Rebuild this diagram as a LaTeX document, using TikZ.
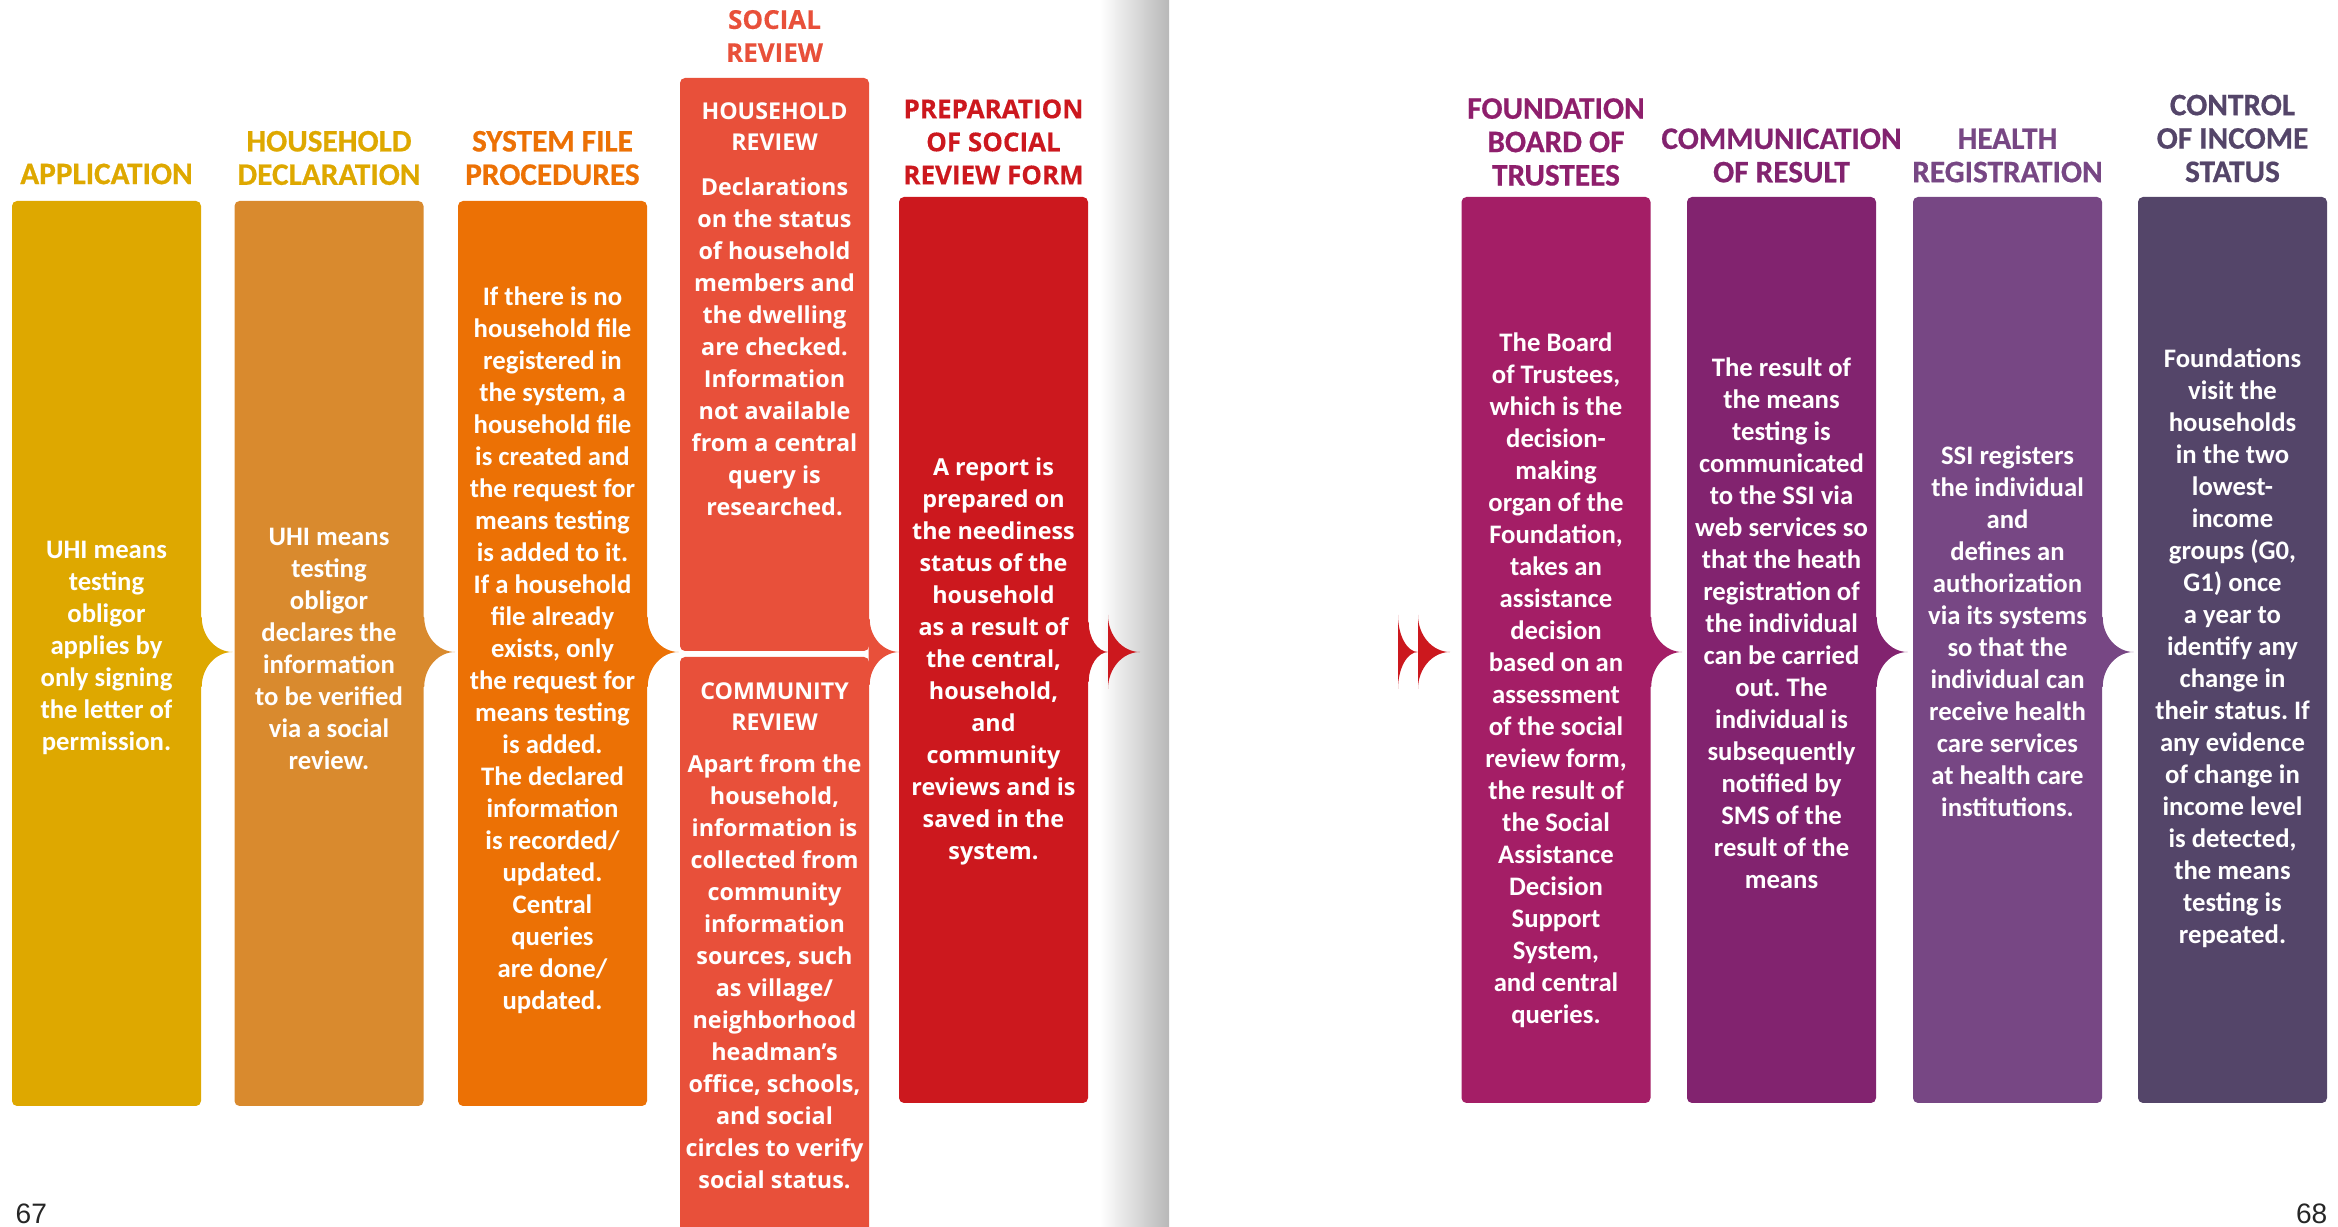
\documentclass[tikz,border=0pt]{standalone}
\usepackage{fontspec}
\usepackage{tikz}
\usetikzlibrary{calc}
\frenchspacing
\newfontfamily\condfont{Carlito}
\newfontfamily\widefont{Open Sans}
\newfontfamily\condhead[BoldFeatures={FakeBold=0.6}]{Carlito}
\newfontfamily\widehead[BoldFeatures={FakeBold=0.4}]{Open Sans}
\newfontfamily\folfont{Liberation Sans}
\definecolor{cAppF}{HTML}{DEA800}
\definecolor{cDeclF}{HTML}{D98A2E}
\definecolor{cSysF}{HTML}{EC7105}
\definecolor{cRevF}{HTML}{E8503A}
\definecolor{cPrepF}{HTML}{CC181E}
\definecolor{cFndF}{HTML}{A41E66}
\definecolor{cFndL}{HTML}{8E1F6C}
\definecolor{cComF}{HTML}{82236F}
\definecolor{cHlthF}{HTML}{774784}
\definecolor{cCtrlF}{HTML}{544569}
\def\tipy{652}
\tikzset{
  stbox/.style={rectangle,rounded corners=0.5mm,minimum width=18.9mm,inner sep=0pt,
      draw=none},
  sthead/.style={align=center,inner sep=0pt,
      font=\condhead\bfseries\fontsize{8.9}{9.5}\selectfont},
  stheadw/.style={align=center,inner sep=0pt,
      font=\widehead\bfseries\fontsize{7.4}{9.4}\selectfont},
  sttext/.style={align=center,inner sep=0pt,text=white,
      font=\condfont\bfseries\fontsize{7.6}{9.1}\selectfont},
  sttextw/.style={align=center,inner sep=0pt,text=white,
      font=\widefont\bfseries\fontsize{6.65}{9.1}\selectfont},
  stsub/.style={align=center,inner sep=0pt,text=white,
      font=\widefont\bfseries\fontsize{6.6}{8.9}\selectfont},
  folio/.style={inner sep=0pt,font=\folfont\fontsize{8}{9}\selectfont,text=black!85},
}
\newcommand{\stagebox}[5]{%
  \node[stbox,fill=#5,minimum height={(#4-#3)*0.1mm}] (#1) at (#2,{(#3+#4)/2}) {};}
\newcommand{\stagetip}[4]{%
  \coordinate (t) at (#1.east |- 0,\tipy);
  \fill[#2] ([shift={(-1,-#4)}]t) -- ([shift={(0,-#4)}]t)
    .. controls +(0,{0.55*#4}) and +({-0.55*#3},0) .. ([shift={(#3,0)}]t)
    .. controls +({-0.55*#3},0) and +(0,{-0.55*#4}) .. ([shift={(0,#4)}]t)
    -- ([shift={(-1,#4)}]t) -- cycle;}
\newcommand{\freetip}[5]{%
  \coordinate (#1) at (#2,\tipy);
  \fill[#3] ([shift={(0,-#5)}]#1)
    .. controls +(0,{0.55*#5}) and +({-0.55*#4},0) .. ([shift={(#4,0)}]#1)
    .. controls +({-0.55*#4},0) and +(0,{-0.55*#5}) .. ([shift={(0,#5)}]#1)
    -- cycle;}

\begin{document}
\begin{tikzpicture}[x=0.1mm,y=-0.1mm]
  \useasboundingbox (0,0) rectangle (2338,1227);
  \clip (0,0) rectangle (2338,1227);
  \shade[left color=white,right color=black!28] (1100,0) rectangle (1169,1227);

  \stagebox{app}{106.5}{201}{1106}{cAppF}
  \stagebox{decl}{329}{201}{1106}{cDeclF}
  \stagebox{sysf}{552.5}{201}{1106}{cSysF}
  \stagebox{hhrev}{774.5}{78}{651}{cRevF}
  \stagebox{comrev}{774.5}{657}{1250}{cRevF}
  \stagebox{prep}{993.5}{197}{1103}{cPrepF}
  \stagebox{fnd}{1556}{197}{1103}{cFndF}
  \stagebox{com}{1781.5}{197}{1103}{cComF}
  \stagebox{hlth}{2007.5}{197}{1103}{cHlthF}
  \stagebox{ctrl}{2232.5}{197}{1103}{cCtrlF}

  \stagetip{app}{cAppF}{31}{35}
  \stagetip{decl}{cDeclF}{31}{35}
  \stagetip{sysf}{cSysF}{31}{35}
  \stagetip{hhrev}{cRevF}{30}{33}
  \stagetip{prep}{cPrepF}{20}{30}
  \freetip{prepx}{1108}{cPrepF}{32}{37}
  \freetip{gapa}{1398}{cPrepF}{20}{37}
  \freetip{gapb}{1418}{cPrepF}{32}{37}
  \stagetip{fnd}{cFndF}{31}{35}
  \stagetip{com}{cComF}{31}{35}
  \stagetip{hlth}{cHlthF}{31}{35}

  \node[sthead,text=cAppF] (appH) at (106.5,174) {APPLICATION};
  \node[sthead,text=cAppF] (declH) at (329,158) {HOUSEHOLD\\DECLARATION};
  \node[sthead,text=cSysF] (sysH) at (552.5,158) {SYSTEM FILE\\PROCEDURES};
  \node[stheadw,text=cRevF] (revH) at (774.5,36) {SOCIAL\\REVIEW};
  \node[stheadw,text=cPrepF] (prepH) at (993.5,142) {PREPARATION\\OF SOCIAL\\REVIEW FORM};
  \node[sthead,text=cFndL] (fndH) at (1556,142) {FOUNDATION\\BOARD OF\\TRUSTEES};
  \node[sthead,text=cComF] (comH) at (1781.5,155.5) {COMMUNICATION\\OF RESULT};
  \node[sthead,text=cHlthF] (hlthH) at (2007.5,155.5) {HEALTH\\REGISTRATION};
  \node[sthead,text=cCtrlF] (ctrlH) at (2232.5,138.5) {CONTROL\\OF INCOME\\STATUS};

  \node[sttext] (appT) at (106.5,648) {UHI means\\testing\\obligor\\applies by\\only signing\\the letter of\\permission.};
  \node[sttext] (declT) at (329,649) {UHI means\\testing\\obligor\\declares the\\information\\to be verified\\via a social\\review.};
  \node[sttext] (sysT) at (552.5,650) {If there is no\\household file\\registered in\\the system, a\\household file\\is created and\\the request for\\means testing\\is added to it.\\If a household\\file already\\exists, only\\the request for\\means testing\\is added.\\The declared\\information\\is recorded/\\updated.\\Central\\queries\\are done/\\updated.};
  \node[stsub] (hhrevH) at (774.5,126.5) {HOUSEHOLD\\REVIEW};
  \node[sttextw] (hhrevT) at (774.5,347) {Declarations\\on the status\\of household\\members and\\the dwelling\\are checked.\\Information\\not available\\from a central\\query is\\researched.};
  \node[stsub] (comrevH) at (774.5,706.5) {COMMUNITY\\REVIEW};
  \node[sttextw] (comrevT) at (774.5,972) {Apart from the\\household,\\information is\\collected from\\community\\information\\sources, such\\as village/\\neighborhood\\headman’s\\office, schools,\\and social\\circles to verify\\social status.};
  \node[sttextw] (prepT) at (993.5,661.5) {A report is\\prepared on\\the neediness\\status of the\\household\\as a result of\\the central,\\household,\\and\\community\\reviews and is\\saved in the\\system.};
  \node[sttext] (fndT) at (1556,680.5) {The Board\\of Trustees,\\which is the\\decision-\\making\\organ of the\\Foundation,\\takes an\\assistance\\decision\\based on an\\assessment\\of the social\\review form,\\the result of\\the Social\\Assistance\\Decision\\Support\\System,\\and central\\queries.};
  \node[sttext] (comT) at (1781.5,623.5) {The result of\\the means\\testing is\\communicated\\to the SSI via\\web services so\\that the heath\\registration of\\the individual\\can be carried\\out. The\\individual is\\subsequently\\notified by\\SMS of the\\result of the\\means};
  \node[sttext] (hlthT) at (2007.5,631) {SSI registers\\the individual\\and\\defines an\\authorization\\via its systems\\so that the\\individual can\\receive health\\care services\\at health care\\institutions.};
  \node[sttext] (ctrlT) at (2232.5,648.5) {Foundations\\visit the\\households\\in the two\\lowest-\\income\\groups (G0,\\G1) once\\a year to\\identify any\\change in\\their status. If\\any evidence\\of change in\\income level\\is detected,\\the means\\testing is\\repeated.};

  \node[folio,anchor=south west] (p67) at (15,1224) {67};
  \node[folio,anchor=south east] (p68) at (2328,1224) {68};
\end{tikzpicture}
\end{document}
